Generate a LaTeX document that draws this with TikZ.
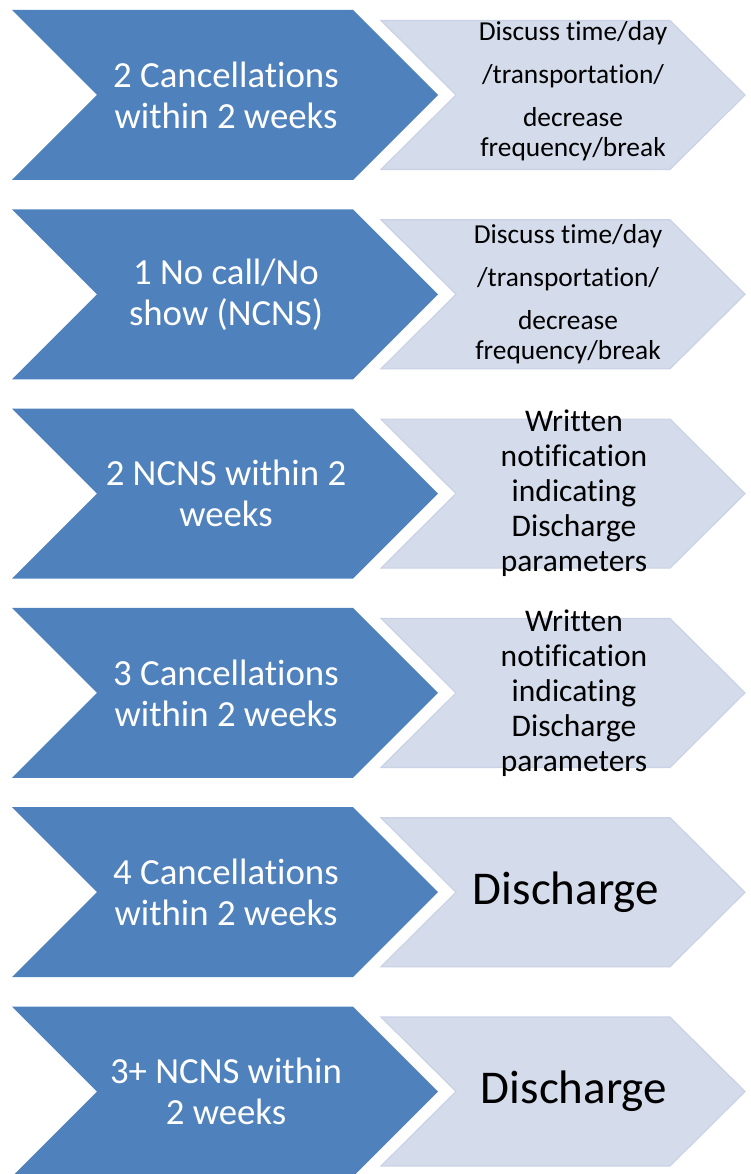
\documentclass[tikz,border=0pt]{standalone}
\usepackage{fontspec}
\setmainfont{Carlito}[Ligatures=NoCommon]
\usetikzlibrary{positioning}
\definecolor{chevblue}{HTML}{4F81BD}
\definecolor{chevlight}{HTML}{D4DBEA}
\definecolor{chevedge}{HTML}{CAD3E6}

\begin{document}
\begin{tikzpicture}[x=1pt,y=-1pt,
  condtxt/.style={text=white,align=center,font=\fontsize{36.8}{41}\selectfont},
  acttxt/.style={text=black,align=center,font=\fontsize{27.4}{30}\selectfont},
  notetxt/.style={text=black,align=center,font=\fontsize{31.5}{35}\selectfont},
  endtxt/.style={text=black,align=center,font=\fontsize{47}{52}\selectfont}]
\clip (0,0) rectangle (751,1174);
% chevron pairs, one per row
\foreach \n in {0,...,5}{
  \pgfmathsetmacro\c{95+199.3*\n}
  \fill[chevblue] (12,\c-85) -- (353,\c-85) -- (438,\c) -- (353,\c+85) -- (12,\c+85) -- (97,\c) -- cycle;
  \draw[chevedge,fill=chevlight,line width=1.2pt,line join=miter] (381,\c-74.5) -- (670,\c-74.5) -- (745,\c) -- (670,\c+74.5) -- (381,\c+74.5) -- (456,\c) -- cycle;
}
\node[condtxt] (cond1) at (226,95) {2 Cancellations\\within 2 weeks};
\node[acttxt] (act1) at (573,91) {Discuss time/day\\[13pt]/transportation/\\[13pt]decrease\\frequency/break};
\node[condtxt] (cond2) at (226,294.3) {1 No call/No\\show (NCNS)};
\node[acttxt] (act2) at (568,294.3) {Discuss time/day\\[13pt]/transportation/\\[13pt]decrease\\frequency/break};
\node[condtxt] (cond3) at (226,493.6) {2 NCNS within 2\\weeks};
\node[notetxt] (act3) at (574,493.6) {Written\\notification\\indicating\\Discharge\\parameters};
\node[condtxt] (cond4) at (226,692.9) {3 Cancellations\\within 2 weeks};
\node[notetxt] (act4) at (574,692.9) {Written\\notification\\indicating\\Discharge\\parameters};
\node[condtxt] (cond5) at (226,892.2) {4 Cancellations\\within 2 weeks};
\node[endtxt] (act5) at (566,892.2) {Discharge};
\node[condtxt] (cond6) at (226,1091.5) {3+ NCNS within\\2 weeks};
\node[endtxt] (act6) at (574,1091.5) {Discharge};
\end{tikzpicture}
\end{document}
